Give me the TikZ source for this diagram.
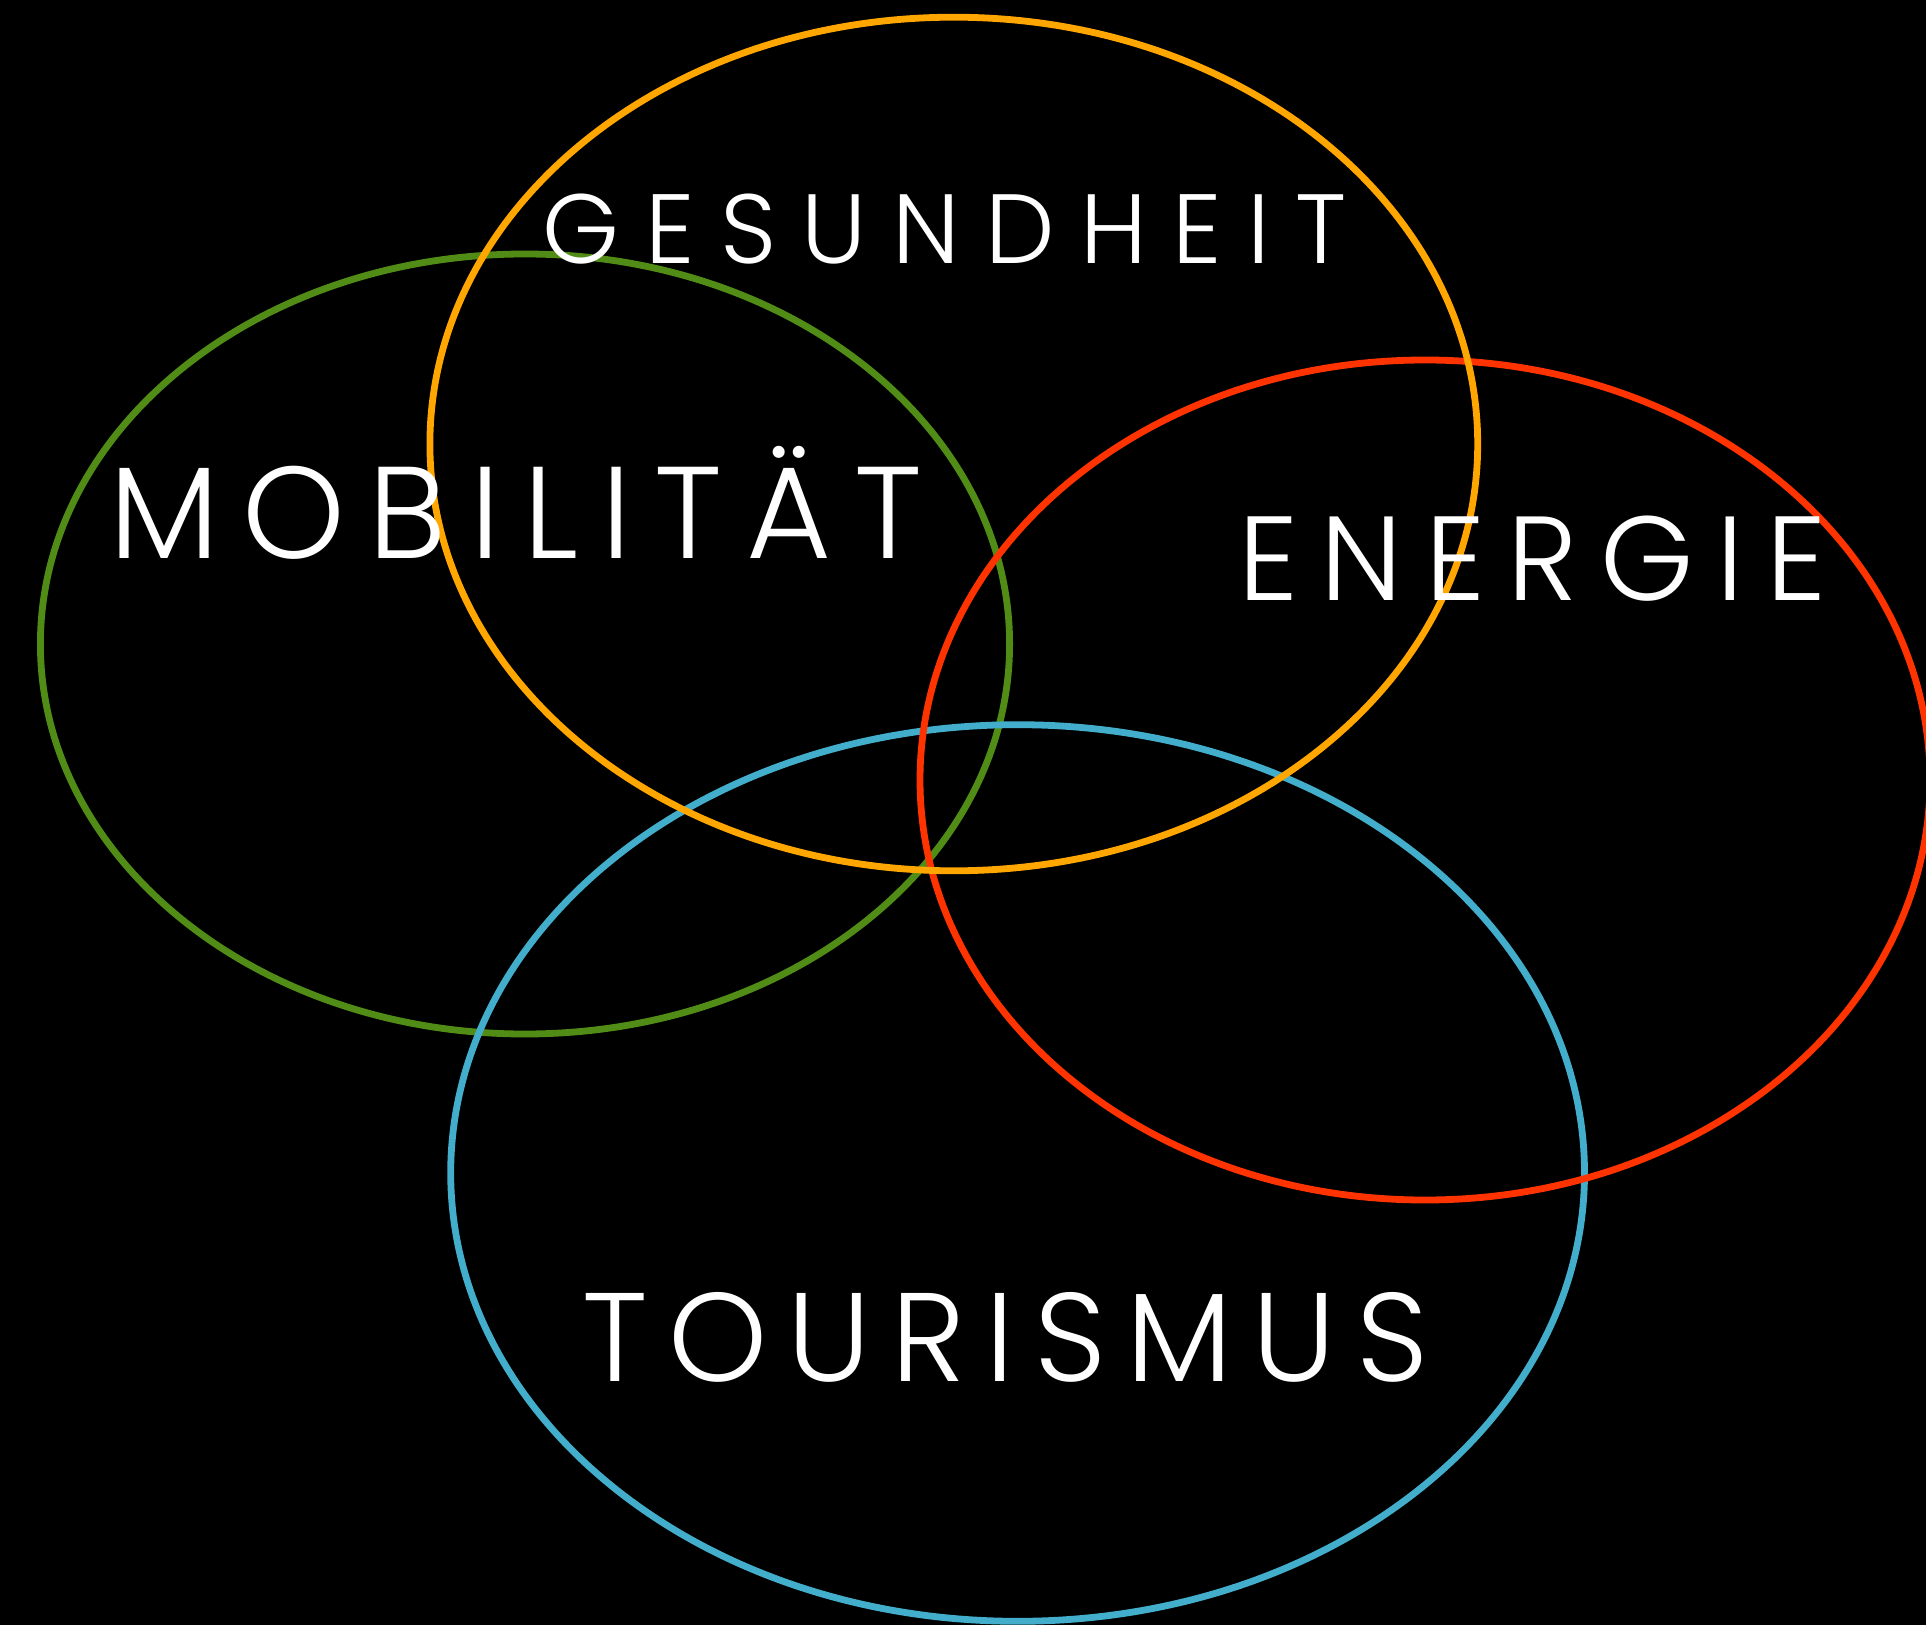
\documentclass[tikz,border=0pt]{standalone}
\usepackage{fontspec}
\newfontfamily\labelfont{Poppins Light}
\definecolor{mobgreen}{RGB}{80,140,22}
\definecolor{gesorange}{RGB}{255,166,0}
\definecolor{enered}{RGB}{255,51,0}
\definecolor{tourblue}{RGB}{66,174,204}
\begin{document}
\begin{tikzpicture}[x=0.5pt,y=-0.5pt,
	ring/.style={line width=3.4pt, line join=round},
	word/.style 2 args={text=white, anchor=base, inner sep=0pt,
		font=\labelfont\fontsize{#1}{#1}\addfontfeatures{LetterSpace=#2}\selectfont}]
			\useasboundingbox (0,0) rectangle (1926,1625);
			\fill [black] (0,0) rectangle (1926,1625);
			\draw [ring, mobgreen] (525,644) ellipse [x radius=484.6, y radius=390];
			\draw [ring, tourblue] (1017.6,1173) ellipse [x radius=566.9, y radius=448.3];
			\draw [ring, enered] (1425,780) ellipse [x radius=505, y radius=420];
			\draw [ring, gesorange] (953.8,444) ellipse [x radius=523.9, y radius=426.8];
			\node [word={49.2}{25.8}] (gesundheit) at (944.6,264) {GESUNDHEIT};
			\node [word={65.3}{17.9}] (mobilitaet) at (515.9,558.9) {MOBILITÄT};
			\node [word={59.8}{18.7}] (energie) at (1532.3,600.6) {ENERGIE};
			\node [word={63}{16}] (tourismus) at (1005.4,1381.8) {TOURISMUS};
\end{tikzpicture}
\end{document}
